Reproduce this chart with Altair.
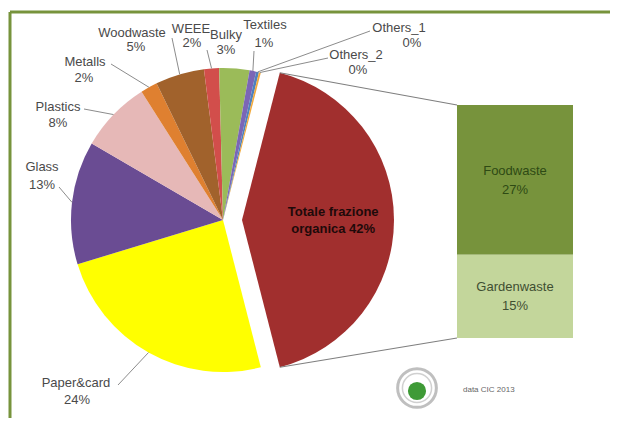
import math
import altair as alt
import pandas as pd

# ---------------- data ----------------
categories = ["Totale frazione organica", "Paper&card", "Glass", "Plastics", "Metalls",
              "Woodwaste", "WEEE", "Bulky", "Textiles", "Others_1", "Others_2"]
shares = [42.0, 24.3, 13.1, 7.6, 1.8, 5.2, 1.6, 3.2, 0.7, 0.3, 0.2]
slice_colors = ["#A12F2E", "#FFFF00", "#6A4C93", "#E6B8B7", "#DF8030", "#A1622C",
                "#D24E4B", "#9BBB59", "#7B66B6", "#4F81BD", "#F2A93B"]

organic_parts = ["Foodwaste", "Gardenwaste"]
organic_shares = [27, 15]
organic_colors = ["#77933C", "#C3D69B"]
organic_text_colors = ["#2E4A14", "#3F4F32"]

source_note = "data CIC 2013"

# ---------------- layout (pixels, page coords minus 8px margin) ----------------
OFF = 8
CX, CY = 223 - OFF, 220 - OFF
EXPLODE = 19
R = 152
BAR_X0, BAR_X1 = 457 - OFF, 573 - OFF
BAR_TOP, BAR_BOTTOM = 105 - OFF, 338 - OFF
FONT = "Liberation Sans"
FRAME = "#77933C"
W, H = 602, 410

# label name center, pct center, leader start (page coords)
LABEL_LAYOUT = {
    "Paper&card": ((76, 383), (77, 400), (118, 385)),
    "Glass": ((42, 167), (42, 185), (59, 187)),
    "Plastics": ((58, 107), (58, 123), (84, 109)),
    "Metalls": ((85, 62), (84, 78), (111, 64)),
    "Woodwaste": ((132, 33), (136, 47), (172, 38)),
    "WEEE": ((191, 29), (192, 43), (207, 50)),
    "Bulky": ((226, 35), (226, 50), None),
    "Textiles": ((265, 25), (264, 43), (254, 51)),
    "Others_1": ((399, 28), (412, 43), (370, 31)),
    "Others_2": ((356, 55), (358, 70), (328, 58)),
}

total = sum(shares)
a0 = math.radians(90 - 180 * shares[0] / total)

rows, lab_rows, lead_rows = [], [], []
cum = 0.0
for i, (c, v, col) in enumerate(zip(categories, shares, slice_colors)):
    mid = a0 + 2 * math.pi * (cum + v / 2) / total
    cum += v
    pct = f"{round(100 * v / total)}%"
    rows.append(dict(idx=i, category=c, share=v, color=col, pct=pct))
    if c in LABEL_LAYOUT:
        (nx, ny), (px, py), lead = LABEL_LAYOUT[c]
        lab_rows.append(dict(name=c, pct=pct, nx=nx - OFF, ny=ny - OFF, px=px - OFF, py=py - OFF))
        if lead is not None:
            lead_rows.append(dict(x=lead[0] - OFF, y=lead[1] - OFF,
                                  x2=CX + R * math.sin(mid), y2=CY - R * math.cos(mid)))

pie_df = pd.DataFrame(rows)
lab_df = pd.DataFrame(lab_rows)
lead_df = pd.DataFrame(lead_rows)

org_cx = CX + EXPLODE
org_start = a0
org_end = a0 + 2 * math.pi * shares[0] / total
org_mid = (org_start + org_end) / 2
conn_df = pd.DataFrame([
    dict(x=org_cx + R * math.sin(org_start), y=CY - R * math.cos(org_start), x2=BAR_X0, y2=BAR_TOP),
    dict(x=org_cx + R * math.sin(org_end), y=CY - R * math.cos(org_end), x2=BAR_X0, y2=BAR_BOTTOM),
])
org_label_df = pd.DataFrame([dict(
    l1="Totale frazione", l2=f"organica {round(100 * shares[0] / total)}%",
    x=org_cx + 0.6 * R * math.sin(org_mid), y=CY - 0.6 * R * math.cos(org_mid))])

bar_df = pd.DataFrame({"part": organic_parts, "share": organic_shares,
                       "color": organic_colors, "tcolor": organic_text_colors,
                       "order": [1, 0]})
bar_df["pct"] = [f"{v}%" for v in organic_shares]

one = pd.DataFrame({"a": [0]})

# ---------------- layers ----------------
theta = alt.Theta("share:Q", stack=True, scale=alt.Scale(range=[a0, a0 + 2 * math.pi]))
fill = alt.Color("color:N", scale=None)

pie_rest = alt.Chart(pie_df).mark_arc(outerRadius=R).encode(
    theta=theta, order=alt.Order("idx:Q"), color=fill,
    opacity=alt.when(alt.datum.idx == 0).then(alt.value(0)).otherwise(alt.value(1)),
    x=alt.value(CX), y=alt.value(CY))

pie_org = alt.Chart(pie_df).mark_arc(outerRadius=R).encode(
    theta=theta, order=alt.Order("idx:Q"), color=fill,
    opacity=alt.when(alt.datum.idx == 0).then(alt.value(1)).otherwise(alt.value(0)),
    x=alt.value(org_cx), y=alt.value(CY))

def pxy(xf, yf):
    return dict(x=alt.X(f"{xf}:Q", scale=None, axis=None),
                y=alt.Y(f"{yf}:Q", scale=None, axis=None))

leaders = alt.Chart(lead_df).mark_rule(color="#8C8C8C", strokeWidth=1).encode(
    **pxy("x", "y"), x2="x2:Q", y2="y2:Q")

connectors = alt.Chart(conn_df).mark_rule(color="#7F7F7F", strokeWidth=1.2).encode(
    **pxy("x", "y"), x2="x2:Q", y2="y2:Q")

txt = dict(font=FONT, fontSize=13, color="#4A4A4A", align="center", baseline="middle")
lab_names = alt.Chart(lab_df).mark_text(**txt).encode(**pxy("nx", "ny"), text="name:N")
lab_pcts = alt.Chart(lab_df).mark_text(**txt).encode(**pxy("px", "py"), text="pct:N")

org_txt = dict(font=FONT, fontSize=13, fontWeight="bold", color="#1E0A0A",
               align="center", baseline="middle")
org_l1 = alt.Chart(org_label_df).mark_text(dy=-8.5, **org_txt).encode(**pxy("x", "y"), text="l1:N")
org_l2 = alt.Chart(org_label_df).mark_text(dy=8.5, **org_txt).encode(**pxy("x", "y"), text="l2:N")

ybar = alt.Scale(domain=[0, sum(organic_shares)], range=[BAR_BOTTOM, BAR_TOP])
bar_base = alt.Chart(bar_df).transform_stack(
    stack="share", as_=["y0", "y1"], groupby=[],
    sort=[alt.SortField("order", order="ascending")]
).transform_calculate(mid="(datum.y0 + datum.y1) / 2")

bar = bar_base.mark_rect().encode(
    x=alt.value(BAR_X0), x2=alt.value(BAR_X1),
    y=alt.Y("y0:Q", scale=ybar, axis=None), y2="y1:Q", color=fill)
bar_txt = dict(font=FONT, fontSize=13, align="center", baseline="middle")
bar_names = bar_base.mark_text(dy=-9, **bar_txt).encode(
    x=alt.value((BAR_X0 + BAR_X1) / 2), y=alt.Y("mid:Q", scale=ybar, axis=None),
    text="part:N", color=alt.Color("tcolor:N", scale=None))
bar_pcts = bar_base.mark_text(dy=10, **bar_txt).encode(
    x=alt.value((BAR_X0 + BAR_X1) / 2), y=alt.Y("mid:Q", scale=ybar, axis=None),
    text="pct:N", color=alt.Color("tcolor:N", scale=None))

frame_top = alt.Chart(one).mark_rule(color=FRAME, strokeWidth=3).encode(
    x=alt.value(2), x2=alt.value(W), y=alt.value(4))
frame_left = alt.Chart(one).mark_rule(color=FRAME, strokeWidth=3).encode(
    x=alt.value(2), y=alt.value(4), y2=alt.value(H))

LX, LY = 417 - OFF, 388 - OFF
logo_ring = alt.Chart(one).mark_point(shape="circle", filled=False, color="#A5A5A5",
                                      strokeWidth=3, size=1500).encode(
    x=alt.value(LX), y=alt.value(LY))
logo_ring2 = alt.Chart(one).mark_point(shape="circle", filled=False, color="#BDBDBD",
                                       strokeWidth=1.5, size=850).encode(
    x=alt.value(LX), y=alt.value(LY))
logo_green = alt.Chart(one).mark_point(shape="circle", filled=True, color="#3E9A36",
                                       opacity=1, size=330).encode(
    x=alt.value(LX), y=alt.value(LY + 3))
note = alt.Chart(pd.DataFrame({"t": [source_note]})).mark_text(
    font=FONT, fontSize=8, color="#666666", align="left", baseline="middle").encode(
    x=alt.value(463 - OFF), y=alt.value(390 - OFF), text="t:N")

chart = alt.layer(
    frame_top, frame_left, pie_rest, pie_org, leaders, connectors,
    lab_names, lab_pcts, org_l1, org_l2, bar, bar_names, bar_pcts,
    logo_ring, logo_ring2, logo_green, note
).resolve_scale(x="independent", y="independent").properties(
    width=W, height=H, autosize=alt.AutoSizeParams(type="none"), padding=0,
    background="white"
).configure_view(stroke=None)

chart.save("out.html", embed_options={"renderer": "svg", "actions": False})
